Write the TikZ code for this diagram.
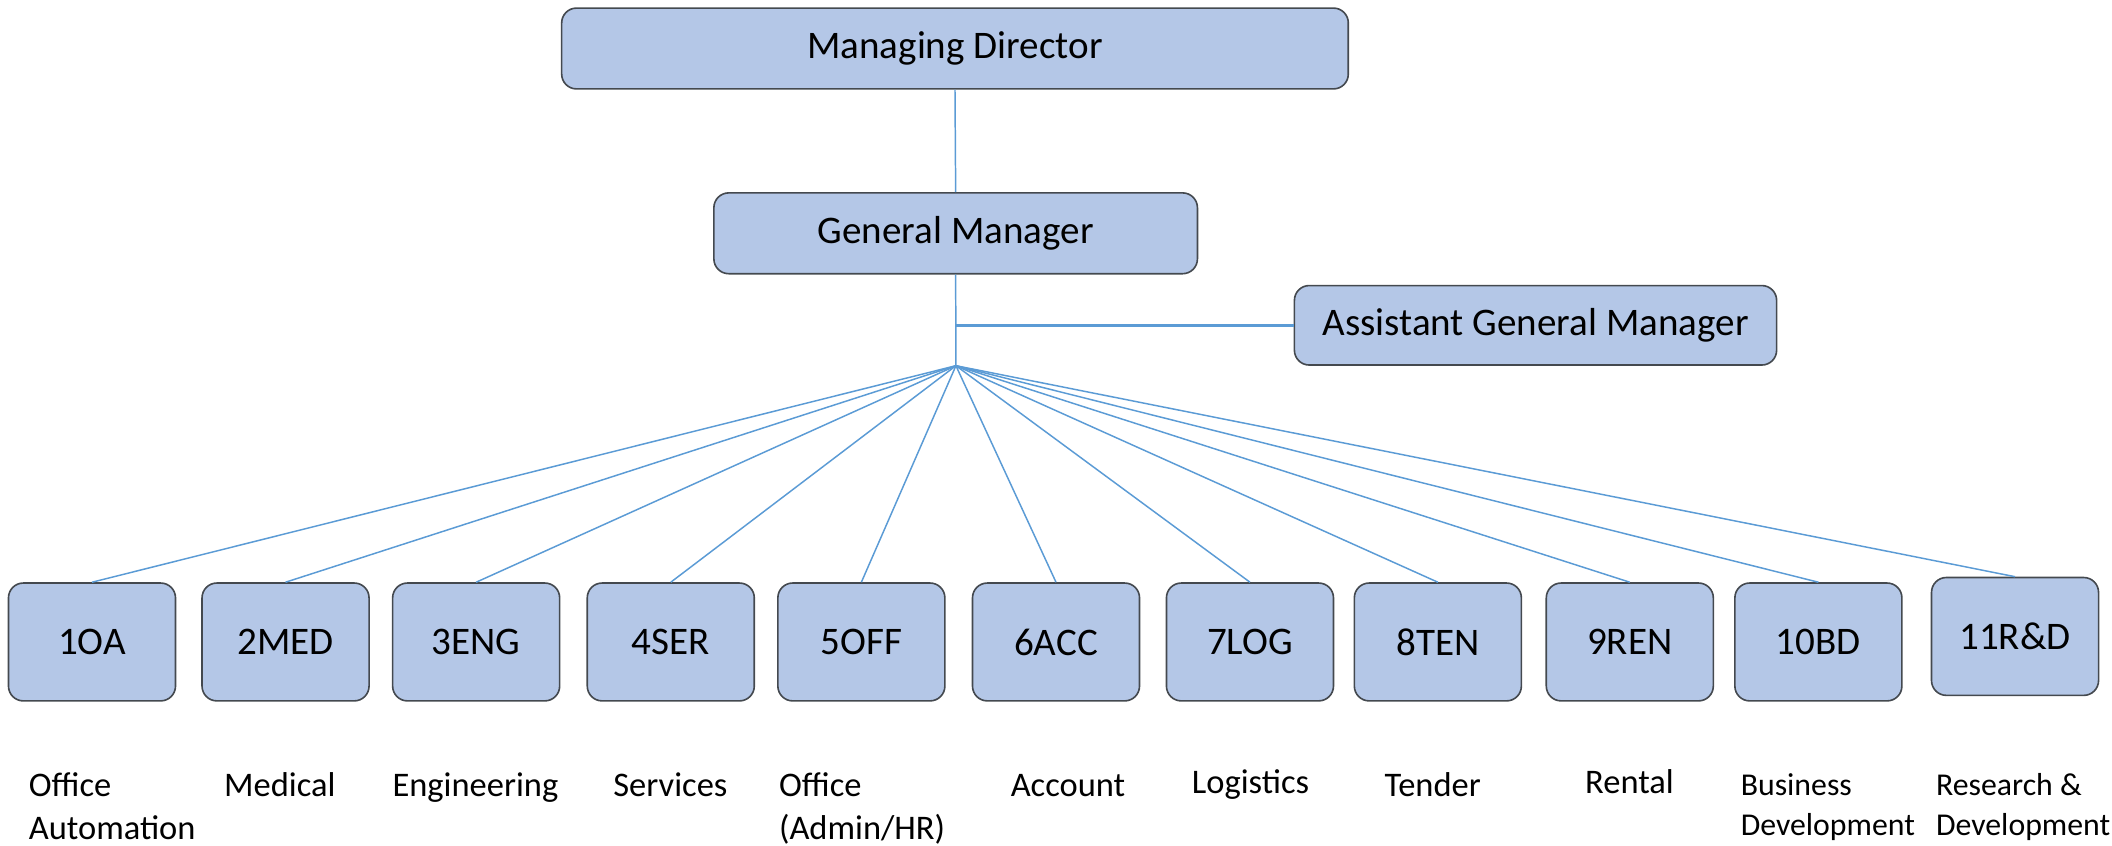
\documentclass[tikz,border=0pt]{standalone}
\usepackage{fontspec}
\setmainfont{Carlito}
\definecolor{boxfill}{HTML}{B4C7E7}
\definecolor{boxline}{HTML}{44494F}
\definecolor{linkblue}{HTML}{5B9BD5}
\begin{document}
\begin{tikzpicture}[x=0.5pt,y=-0.5pt,
  box/.style={draw=boxline, fill=boxfill, rounded corners=5.5pt, line width=0.6pt, inner sep=0pt,
    font=\fontsize{14.5}{17}\selectfont},
  dept/.style={box, minimum width=62pt, minimum height=43.75pt},
  link/.style={draw=linkblue, line width=0.55pt},
  lab/.style={anchor=base west, inner sep=0pt, align=left, font=\fontsize{12.8}{15.9}\selectfont},
  labs/.style={anchor=base west, inner sep=0pt, align=left, font=\fontsize{11.8}{15}\selectfont}]
\useasboundingbox (0,0) rectangle (1568,627.4);

\node[box, minimum width=292pt, minimum height=30pt] (md) at (709,36) {Managing Director};
\node[box, minimum width=179.5pt, minimum height=30pt] (gm) at (709.5,173.2) {General Manager};
\node[box, minimum width=179pt, minimum height=29.5pt] (agm) at (1140,241.5) {Assistant General Manager};
\coordinate (fan) at (709.7,271.5);

\node[dept] (d1) at (68.3,476.6) {1OA};
\node[dept] (d2) at (212,476.6) {2MED};
\node[dept] (d3) at (353.5,476.6) {3ENG};
\node[dept] (d4) at (498,476.6) {4SER};
\node[dept] (d5) at (639.5,476.6) {5OFF};
\node[dept] (d6) at (784,476.6) {6ACC};
\node[dept] (d7) at (928,476.6) {7LOG};
\node[dept] (d8) at (1067.5,476.6) {8TEN};
\node[dept] (d9) at (1210,476.6) {9REN};
\node[dept] (d10) at (1350,476.6) {10BD};
\node[dept] (d11) at (1496,472.5) {11R\&D};

\draw[link] (md.south) -- (gm.north);
\draw[link] (gm.south) -- (fan);
\draw[draw=linkblue, line width=1pt] (fan |- agm.west) -- (agm.west);
\foreach \i in {1,...,11} { \draw[link] (fan) -- (d\i.north); }

\node[lab] (l1) at (21,623.4) {Office\\Automation};
\node[lab] (l2) at (166,591.7) {Medical};
\node[lab] (l3) at (291,591.7) {Engineering};
\node[lab] (l4) at (455,591.7) {Services};
\node[lab] (l5) at (578,623.4) {Office\\(Admin/HR)};
\node[lab] (l6) at (750,591.7) {Account};
\node[lab] (l7) at (884.5,589) {Logistics};
\node[lab] (l8) at (1027.5,591.7) {Tender};
\node[lab] (l9) at (1176.5,589) {Rental};
\node[labs] (l10) at (1292,620.5) {Business\\Development};
\node[labs] (l11) at (1437,620.5) {Research \&\\Development};
\end{tikzpicture}
\end{document}
